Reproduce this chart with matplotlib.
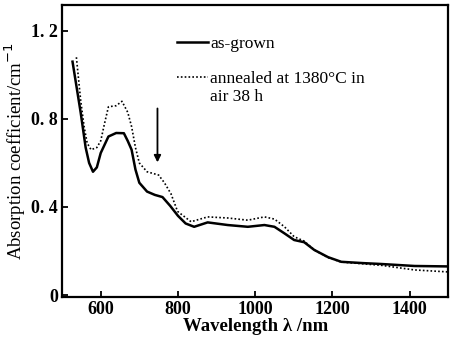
import matplotlib
matplotlib.use("Agg")
import matplotlib.pyplot as plt

# as-grown (solid)
wl_grown = [527, 548, 561, 570, 580, 590, 600, 620, 640, 660, 670, 680, 690, 700,
            720, 740, 760, 780, 800, 820, 842, 877, 929, 981, 1024, 1050, 1076,
            1101, 1127, 1153, 1189, 1223, 1280, 1327, 1413, 1500]
ab_grown = [1.06, 0.83, 0.67, 0.60, 0.56, 0.58, 0.645, 0.72, 0.736, 0.735, 0.70, 0.66,
            0.57, 0.51, 0.47, 0.455, 0.445, 0.405, 0.36, 0.325, 0.31, 0.33, 0.318,
            0.31, 0.318, 0.31, 0.28, 0.25, 0.24, 0.205, 0.172, 0.151, 0.145, 0.141,
            0.132, 0.13]

# annealed at 1380 C in air 38 h (dotted)
wl_ann = [537, 548, 557, 565, 575, 590, 600, 610, 620, 640, 655, 670, 680, 690, 700,
          720, 750, 765, 782, 799, 834, 877, 929, 981, 1024, 1050, 1076, 1101, 1127,
          1153, 1189, 1223, 1327, 1413, 1500]
ab_ann = [1.08, 0.886, 0.765, 0.69, 0.66, 0.67, 0.70, 0.78, 0.855, 0.86, 0.88, 0.83,
          0.765, 0.67, 0.60, 0.56, 0.545, 0.51, 0.46, 0.38, 0.333, 0.355, 0.35, 0.34,
          0.355, 0.345, 0.31, 0.265, 0.245, 0.205, 0.17, 0.15, 0.135, 0.114, 0.105]

xticks = [600, 800, 1000, 1200, 1400]
yticks = [0, 0.4, 0.8, 1.2]
ytick_labels = ["0", "0. 4", "0. 8", "1. 2"]

serif = ["Liberation Serif", "DejaVu Serif"]
plt.rcParams["font.family"] = serif

fig = plt.figure(figsize=(4.5, 3.47), dpi=100)
ax = fig.add_axes([0.138, 0.144, 0.858, 0.842])

ax.plot(wl_grown, ab_grown, color="black", lw=1.8, label="as-grown")
ax.plot(wl_ann, ab_ann, color="black", lw=1.2, linestyle=(0, (1, 1.3)),
        label="annealed at 1380°C in")

ax.annotate("", xy=(747, 0.59), xytext=(747, 0.86),
            arrowprops=dict(arrowstyle="-|>", color="black", lw=1.3,
                            mutation_scale=10))

ax.set_xlim(500, 1500)
ax.set_ylim(-0.009, 1.318)
ax.set_xticks(xticks)
ax.set_yticks(yticks)
ax.set_yticklabels(ytick_labels)
ax.tick_params(direction="in", length=4, width=1.3, labelsize=13, pad=3)
for lab in ax.get_xticklabels() + ax.get_yticklabels():
    lab.set_fontweight("bold")
for s in ax.spines.values():
    s.set_linewidth(1.6)

ax.set_xlabel("Wavelength λ /nm", fontsize=13.5, fontweight="bold", labelpad=0)
ax.set_ylabel("Absorption coefficient/cm$^{-1}$", fontsize=13.5, labelpad=2)

leg = ax.legend(loc="upper left", bbox_to_anchor=(0.298, 0.893), frameon=False,
                fontsize=12.5, handlelength=1.75, handletextpad=0.15,
                labelspacing=1.05, borderaxespad=0, borderpad=0)

fig.canvas.draw()
t = leg.get_texts()[1]
bb = t.get_window_extent()
inv = fig.transFigure.inverted()
x0, y0 = inv.transform((bb.x0, bb.y0))
fig.text(x0, y0 - 0.008, "air 38 h", fontsize=12.5, ha="left", va="top")

fig.savefig("out.png", dpi=100)
